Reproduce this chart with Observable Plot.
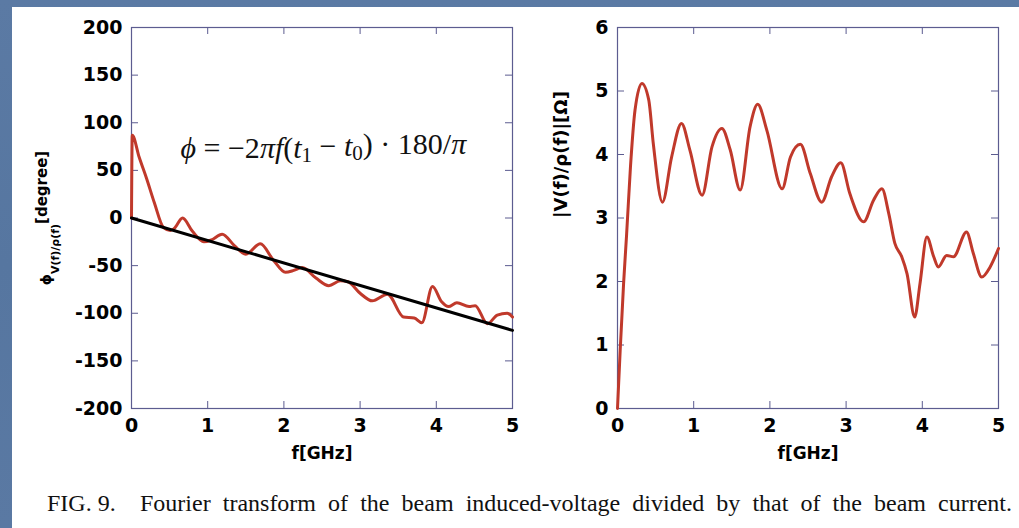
<!DOCTYPE html>
<html>
<head>
<meta charset="utf-8">
<script src="https://cdn.jsdelivr.net/npm/d3@7"></script>
<script src="https://cdn.jsdelivr.net/npm/@observablehq/plot@0.6"></script>
<style>
  html, body { margin: 0; padding: 0; }
  body { width: 1019px; height: 528px; position: relative; overflow: hidden;
         background: linear-gradient(180deg, #5b7aa4 0%, #5676a0 50%, #5a79a3 100%); }
  #panel { position: absolute; left: 12px; top: 7px; right: 0; bottom: 0; background: #ffffff; }
  #left, #right { position: absolute; top: 0; }
  #left { left: 0; width: 520px; }
  #right { left: 520px; width: 499px; }
  .cap { position: absolute; top: 491px; font-family: "Liberation Serif", "Times New Roman", serif;
         font-size: 24px; line-height: 24px; white-space: pre; color: #111; }
</style>
</head>
<body>
<div id="panel"></div>
<div id="left"></div>
<div id="right"></div>
<div class="cap" id="cap1" style="left:47px">FIG. 9.</div>
<div class="cap" id="cap2" style="left:140px">Fourier transform of the beam induced-voltage divided by that of the beam current.</div>
<script>
// ---------- data ----------
const freqTicks = [0, 1, 2, 3, 4, 5];
const phaseTicks = [-200, -150, -100, -50, 0, 50, 100, 150, 200];
const ampTicks = [0, 1, 2, 3, 4, 5, 6];

// phase of V(f)/rho(f) [degree]
const phaseF   = [0, 0.01, 0.1, 0.2, 0.3, 0.42, 0.51, 0.56, 0.67, 0.80, 0.95, 1.05, 1.19, 1.35, 1.50, 1.69, 1.86, 2.02, 2.13, 2.24, 2.42, 2.59, 2.74, 2.84, 3.00, 3.16, 3.36, 3.57, 3.71, 3.81, 3.95, 4.07, 4.16, 4.27, 4.43, 4.51, 4.67, 4.80, 4.93, 5.0];
const phaseDeg = [0, 87, 64, 41, 16, -10, -13, -11, 0, -14, -25, -23, -17, -29, -38, -27, -44, -57, -55, -52, -63, -71, -66, -67, -79, -87, -80, -104, -105, -110, -72, -88, -93, -89, -93, -92, -111, -102, -100, -104];

// linear fit phi = -2*pi*f*(t1-t0)*180/pi
const fitF   = [0, 5];
const fitDeg = [0, -118];

// |V(f)/rho(f)| [Ohm]
const ampF = [0, 0.035, 0.08, 0.12, 0.17, 0.23, 0.32, 0.41, 0.47, 0.59, 0.71, 0.84, 0.95, 1.11, 1.24, 1.37, 1.48, 1.61, 1.74, 1.84, 1.96, 2.16, 2.27, 2.40, 2.53, 2.68, 2.81, 2.93, 3.05, 3.23, 3.36, 3.47, 3.56, 3.64, 3.73, 3.80, 3.90, 3.97, 4.06, 4.15, 4.21, 4.32, 4.41, 4.58, 4.67, 4.78, 4.89, 5.0];
const ampV = [0, 0.91, 1.97, 2.75, 3.8, 4.7, 5.12, 4.86, 4.17, 3.25, 3.96, 4.49, 4.07, 3.36, 4.12, 4.41, 4.07, 3.44, 4.44, 4.79, 4.38, 3.46, 3.96, 4.16, 3.70, 3.25, 3.65, 3.87, 3.38, 2.94, 3.28, 3.46, 3.07, 2.60, 2.39, 2.12, 1.44, 1.97, 2.70, 2.39, 2.23, 2.41, 2.39, 2.78, 2.44, 2.07, 2.23, 2.52];

const xLabel = "f[GHz]";
const phaseLabel = "ϕV(f)/ρ(f)[degree]";
const ampLabel = "|V(f)/ρ(f)|[Ω]";
const equation = "ϕ = −2πf(t1 − t0) · 180/π";

// ---------- styles ----------
const frameColor = "#5c5c90";
const red = "#c0392b";
const font = "DejaVu Sans";
const tickLen = 7;
const frameSize = 381;

const phaseData = phaseF.map((f, i) => ({f, v: phaseDeg[i]}));
const fitData = fitF.map((f, i) => ({f, v: fitDeg[i]}));
const ampData = ampF.map((f, i) => ({f, v: ampV[i]}));

function frameMarks(yTicks) {
  return [
    Plot.frame({stroke: frameColor, strokeWidth: 1.2}),
    Plot.tickX(freqTicks, {x: d => d, stroke: frameColor, insetBottom: frameSize - tickLen}),
    Plot.tickX(freqTicks, {x: d => d, stroke: frameColor, insetTop: frameSize - tickLen}),
    Plot.tickY(yTicks, {y: d => d, stroke: frameColor, insetRight: frameSize - tickLen}),
    Plot.tickY(yTicks, {y: d => d, stroke: frameColor, insetLeft: frameSize - tickLen}),
    Plot.axisX(freqTicks, {tickSize: 0, tickPadding: 10, fontSize: 19, fontWeight: "bold", label: null, tickFormat: d => String(d), fill: "#000"}),
    Plot.axisY(yTicks, {tickSize: 0, tickPadding: 9, fontSize: 19, fontWeight: "bold", label: null, tickFormat: d => String(d), fill: "#000"}),
    Plot.text([xLabel], {frameAnchor: "bottom", dy: 45, fontSize: 17, fontWeight: "bold", lineAnchor: "middle", fill: "#000"})
  ];
}

const leftPlot = Plot.plot({
  width: 520, height: 460,
  marginLeft: 131, marginRight: 8, marginTop: 27, marginBottom: 52,
  x: {domain: [0, 5]},
  y: {domain: [-200, 200]},
  style: {background: "transparent", fontFamily: font, overflow: "visible"},
  marks: [
    ...frameMarks(phaseTicks),
    Plot.line(phaseData, {x: "f", y: "v", curve: "monotone-x", stroke: red, strokeWidth: 3}),
    Plot.line(fitData, {x: "f", y: "v", stroke: "#000", strokeWidth: 3}),
    Plot.text([phaseLabel], {frameAnchor: "left", dx: -81, rotate: -90, fontSize: 15, fontWeight: "bold", fill: "#000", textAnchor: "middle"}),
    Plot.text([equation], {frameAnchor: "top-left", dx: 49, dy: 130, textAnchor: "start", fontSize: 23, fill: "#111"})
  ]
});
document.getElementById("left").append(leftPlot);

const rightPlot = Plot.plot({
  width: 499, height: 460,
  marginLeft: 97, marginRight: 21, marginTop: 27, marginBottom: 52,
  x: {domain: [0, 5]},
  y: {domain: [0, 6]},
  style: {background: "transparent", fontFamily: font, overflow: "visible"},
  marks: [
    ...frameMarks(ampTicks),
    Plot.line(ampData, {x: "f", y: "v", curve: "monotone-x", stroke: red, strokeWidth: 3}),
    Plot.text([ampLabel], {frameAnchor: "left", dx: -56, rotate: -90, fontSize: 18, fontWeight: "bold", fill: "#000", lineAnchor: "middle"})
  ]
});
document.getElementById("right").append(rightPlot);

// ---------- rich text (sub/superscripts) ----------
function rich(svg, str, parts) {
  const t = [...svg.querySelectorAll("text")].find(e => e.textContent === str);
  if (!t) return null;
  t.removeAttribute("dy");
  t.setAttribute("y", 0);
  while (t.firstChild) t.removeChild(t.firstChild);
  for (const p of parts) {
    const s = document.createElementNS("http://www.w3.org/2000/svg", "tspan");
    s.textContent = p.t;
    if (p.size) s.setAttribute("font-size", p.size);
    if (p.dy) s.setAttribute("dy", p.dy);
    if (p.italic) s.setAttribute("font-style", "italic");
    if (p.family) s.setAttribute("font-family", p.family);
    t.appendChild(s);
  }
  return t;
}

rich(leftPlot, phaseLabel, [
  {t: "ϕ", size: 14},
  {t: "V(f)/ρ(f)", size: 11, dy: 8},
  {t: "[degree]", size: 15, dy: -12}
]);

const serif = "Liberation Serif";
const eq = rich(leftPlot, equation, [
  {t: "ϕ", italic: true, family: serif},
  {t: " = −2", family: serif},
  {t: "πf", italic: true, family: serif},
  {t: "(", family: serif},
  {t: "t", italic: true, family: serif},
  {t: "1", size: "0.7em", dy: "0.22em", family: serif},
  {t: " − ", dy: "-0.22em", family: serif},
  {t: "t", italic: true, family: serif},
  {t: "0", size: "0.7em", dy: "0.22em", family: serif},
  {t: ")", dy: "-0.22em", family: serif},
  {t: " · 180/", family: serif},
  {t: "π", italic: true, family: serif}
]);
if (eq) {
  const nat = eq.getComputedTextLength();
  const fs = Math.max(20, Math.min(30, 23 * 302 / nat));
  eq.setAttribute("font-size", fs);
}

// ---------- caption: justified-like word spacing ----------
function spread(id, w) {
  const el = document.getElementById(id);
  const nat = el.getBoundingClientRect().width;
  const n = (el.textContent.match(/ /g) || []).length;
  if (n && w > nat) el.style.wordSpacing = ((w - nat) / n) + "px";
  else if (w < nat) { el.style.transformOrigin = "0 0"; el.style.transform = `scaleX(${w / nat})`; }
}
spread("cap2", 872);
</script>
</body>
</html>
